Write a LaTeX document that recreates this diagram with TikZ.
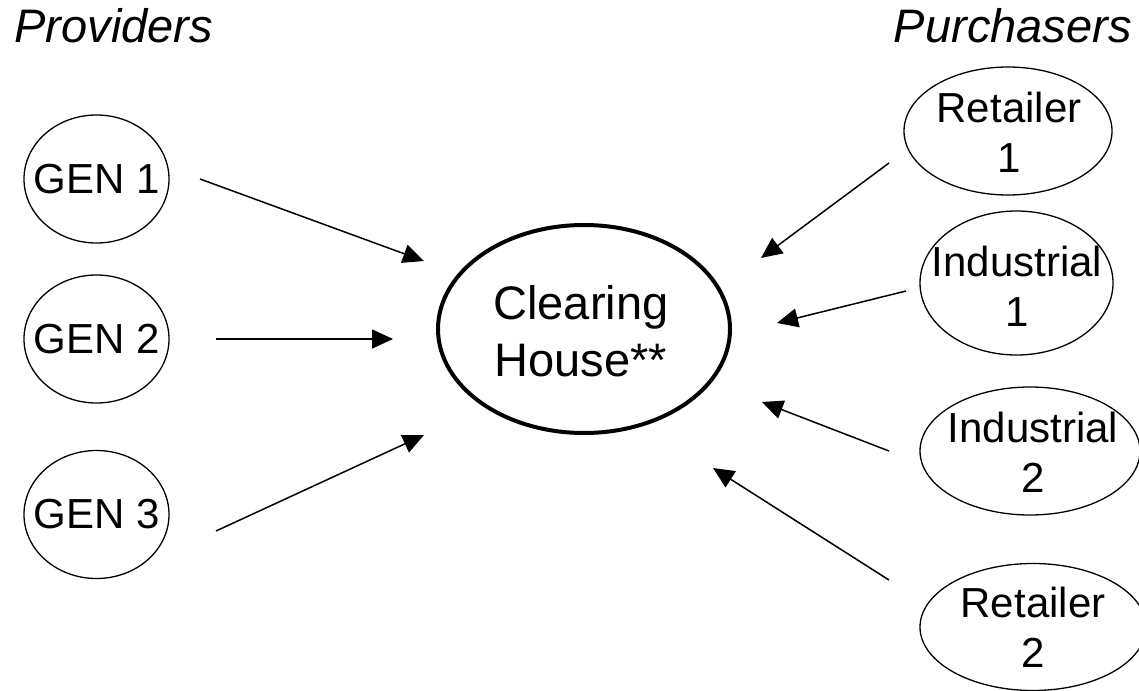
\documentclass[tikz,border=0pt]{standalone}
\usepackage{fontspec}
\setmainfont{Liberation Sans}
\usetikzlibrary{arrows.meta,shapes.geometric}
\begin{document}
\begin{tikzpicture}[x=0.5pt,y=-0.5pt,
  party/.style={draw,ellipse,line width=0.65pt,inner sep=0pt},
  lbl/.style={align=center,inner sep=0pt,font=\fontsize{21pt}{25pt}\selectfont},
  hub/.style={draw,ellipse,line width=2pt,inner sep=0pt},
  flow/.style={line width=0.75pt,-{Triangle[length=10.5pt,width=9.5pt]}},
  title/.style={inner sep=0pt,font=\fontsize{23.5pt}{28pt}\selectfont\itshape}]
\path[use as bounding box] (0,0) rectangle (1139,690);
\begin{scope}
\clip (0,0) rectangle (1139,690);
% titles
\node[title,anchor=base west] (prov) at (14,43) {Providers};
\node[title,anchor=base east] (purch) at (1132,43) {Purchasers};
% providers
\node[party,minimum width=72.5pt,minimum height=64pt] (g1) at (96.5,179) {};
\node[lbl] (g1t) at (g1.center) {GEN 1};
\node[party,minimum width=72.5pt,minimum height=64pt] (g2) at (96.5,339) {};
\node[lbl] (g2t) at (g2.center) {GEN 2};
\node[party,minimum width=72.5pt,minimum height=64pt] (g3) at (96.5,514.5) {};
\node[lbl] (g3t) at (g3.center) {GEN 3};
% hub
\node[hub,minimum width=146pt,minimum height=104pt] (ch) at (584,329) {};
\node[align=center,inner sep=0pt,font=\fontsize{23.5pt}{28.3pt}\selectfont] (cht) at (581,331) {Clearing\\House**};
% purchasers
\node[party,minimum width=104pt,minimum height=64pt] (r1) at (1008,131) {};
\node[lbl] (r1t) at (1009,132.5) {Retailer\\1};
\node[party,minimum width=96.5pt,minimum height=72pt] (i1) at (1016.5,283) {};
\node[lbl] (i1t) at (1017,286) {Industrial\\1};
\node[party,minimum width=110pt,minimum height=64pt] (i2) at (1030,451) {};
\node[lbl] (i2t) at (1033,452) {Industrial\\2};
\node[party,minimum width=113pt,minimum height=63.5pt] (r2) at (1033,627) {};
\node[lbl] (r2t) at (1033,627) {Retailer\\2};
\end{scope}
% connector ends
\coordinate (a1s) at (200,179);  \coordinate (a1e) at (424,261);
\coordinate (a2s) at (216,339);  \coordinate (a2e) at (393,339);
\coordinate (a3s) at (216,531);  \coordinate (a3e) at (424,435);
\coordinate (b1s) at (889,163);  \coordinate (b1e) at (761,258);
\coordinate (b2s) at (906,291);  \coordinate (b2e) at (777,323);
\coordinate (b3s) at (889,451);  \coordinate (b3e) at (762,402);
\coordinate (b4s) at (889,580);  \coordinate (b4e) at (713,468);
\draw[flow] (a1s) -- (a1e);
\draw[flow] (a2s) -- (a2e);
\draw[flow] (a3s) -- (a3e);
\draw[flow] (b1s) -- (b1e);
\draw[flow] (b2s) -- (b2e);
\draw[flow] (b3s) -- (b3e);
\draw[flow] (b4s) -- (b4e);
\end{tikzpicture}
\end{document}
